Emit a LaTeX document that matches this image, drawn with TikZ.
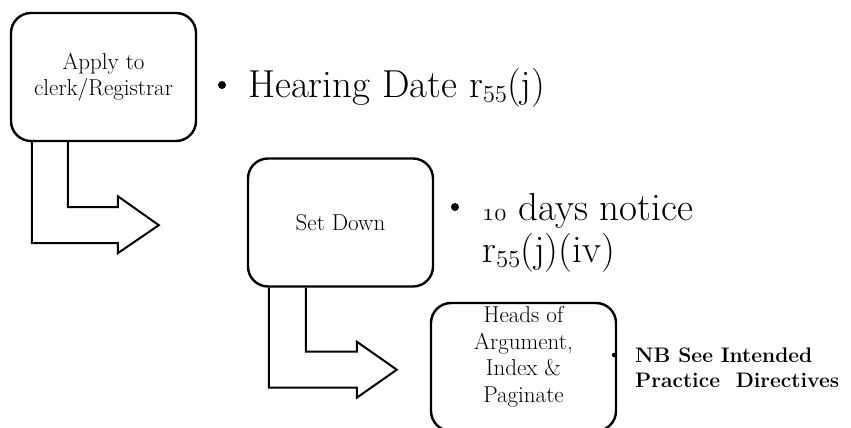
\documentclass[tikz,border=0pt]{standalone}
\newcommand\osn[1]{{\fontsize{45}{42}\usefont{OML}{lmm}{m}{it}#1}}
\begin{document}
\begin{tikzpicture}[x=1pt,y=-1pt,
 roundbox/.style={draw, line width=2.4pt, rounded corners=20pt, minimum width=185pt, minimum height=128pt, align=center, inner sep=0pt, font=\fontsize{23}{26}\selectfont},
 boxtext/.style={align=center, inner sep=0pt, font=\fontsize{23}{26.5}\selectfont},
 bentarrow/.style={draw, line width=2pt, line join=miter},
 bigtext/.style={anchor=base west, inner sep=0pt, align=left, font=\fontsize{39}{42}\selectfont},
 nbtext/.style={anchor=base west, inner sep=0pt, align=left, font=\fontsize{21}{25}\selectfont\bfseries},
 bul/.style={circle, fill=black, inner sep=0pt, minimum size=8pt},
 smallbul/.style={circle, fill=black, inner sep=0pt, minimum size=4.5pt}]
\useasboundingbox (0,0) rectangle (851,428);
\fill[white] (0,0) rectangle (851,428);
\clip (0,0) rectangle (851,428);
% boxes
\node[roundbox] (b1) at (103.5,77) {Apply to\\clerk/Registrar};
\node[roundbox] (b2) at (340.5,222.5) {Set Down};
\node[roundbox] (b3) at (523.5,367) {};
\node[boxtext] (t3) at ([yshift=10pt]b3.center) {Heads of\\Argument,\\Index \&\\Paginate};
% bent arrows
\draw[bentarrow] ([xshift=22pt]b1.south west) -- ++(0,101) -- ++(86,0) -- ++(0,10) -- ++(41,-28) -- ++(-41,-29) -- ++(0,11) -- ++(-50,0) -- ++(0,-65);
\draw[bentarrow] ([xshift=22pt]b2.south west) -- ++(0,100) -- ++(88,0) -- ++(0,10) -- ++(40,-28) -- ++(-40,-28) -- ++(0,10) -- ++(-51,0) -- ++(0,-64);
% bullet texts
\node[bul] (bh) at (222,85) {};
\node[bigtext] (th) at (248,97) {Hearing Date r\osn{55}(j)};
\node[bul] (bd) at (455,207) {};
\node[bigtext] (td) at (482,262) {\osn{10} days notice\\r\osn{55}(j)(iv)};
\node[smallbul] (bn) at (614,355) {};
\node[nbtext] (tn) at (635,387) {NB See Intended\\Practice\ \ Directives};
\end{tikzpicture}
\end{document}
